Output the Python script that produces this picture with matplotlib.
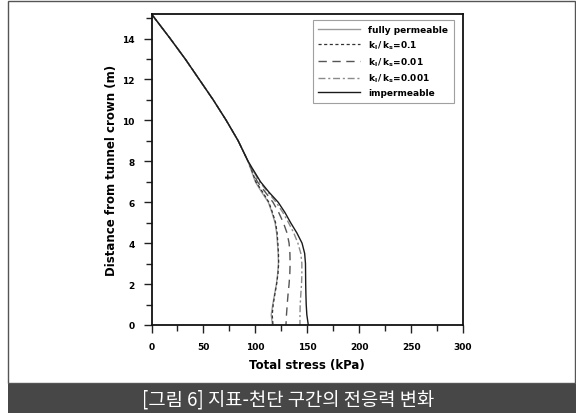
import numpy as np
import matplotlib
matplotlib.use("Agg")
import matplotlib.pyplot as plt
import matplotlib.ticker as plticker
from matplotlib.patches import Rectangle

# distance from the tunnel crown (m)
depth = [15.2, 14, 13, 12, 11, 10, 9, 8, 7.5, 7, 6.5, 6, 5.5, 5, 4.5, 4,
         3.5, 3, 2.5, 2, 1.5, 1, 0.5, 0]

# total stress (kPa) for each lining/soil permeability ratio
upper = [0, 18, 32.5, 46, 59.5, 72, 83.5, 93]
fully_perm = upper + [96.5, 100, 106, 112.5, 116, 119, 120.5, 121.3,
                      122, 122.2, 121.5, 120.3, 118.5, 116.8, 115.3, 116.5]
ratio_01 = upper + [97, 100.5, 107, 113, 116.5, 119.5, 121, 121.7,
                    122.3, 122.5, 121.8, 120.5, 118.8, 117.2, 116.3, 117]
ratio_001 = upper + [97.5, 102, 109.5, 117, 122.5, 127, 130.5, 132.5,
                     133.3, 133.5, 133.2, 132.5, 131.5, 130.7, 130, 129.5]
ratio_0001 = upper + [98.5, 104, 112, 120, 126.5, 132, 137, 141,
                      143.8, 144.8, 144.8, 144.5, 143.8, 143.2, 143, 143]
imperm = upper + [99, 105, 113, 122, 128.5, 134, 140, 145,
                  147.5, 148.3, 148.4, 148.5, 148.7, 149, 149.6, 151]

x_ticks = [0, 50, 100, 150, 200, 250, 300]
y_ticks = [0, 2, 4, 6, 8, 10, 12, 14]
caption = "[그림 6] 지표-천단 구간의 전응력 변화"

fig = plt.figure(figsize=(5.76, 4.14), dpi=100)
fig.set_facecolor("white")

# white panel with a thin border, dark caption bar underneath
W, H = 576.0, 414.0
fig.patches.append(Rectangle((8 / W, (H - 384) / H), 567 / W, 382 / H,
                             transform=fig.transFigure, facecolor="none",
                             edgecolor="#555555", linewidth=1.0, zorder=-5))
fig.patches.append(Rectangle((8 / W, 0), 568 / W, (H - 385) / H,
                             transform=fig.transFigure, facecolor="#474747",
                             edgecolor="none", zorder=-5))
fig.text(288 / W, 14 / H, caption, color="white", fontsize=13.5,
         ha="center", va="center", family=["Noto Sans CJK KR", "DejaVu Sans"])

ax = fig.add_axes([151.5 / W, (H - 326) / H, 311.5 / W, 311 / H])

ax.plot(fully_perm, depth, "-", color="#9a9a9a", linewidth=1.0, label="fully permeable")
ax.plot(ratio_01, depth, "--", color="#333333", linewidth=0.9, dashes=(2.5, 2),
        label=r"$\mathbf{k_l\,/\,k_s}$=0.1")
ax.plot(ratio_001, depth, "--", color="#555555", linewidth=1.0, dashes=(6, 4),
        label=r"$\mathbf{k_l\,/\,k_s}$=0.01")
ax.plot(ratio_0001, depth, "-.", color="#8a8a8a", linewidth=1.0, dashes=(5, 2, 1.5, 2),
        label=r"$\mathbf{k_l\,/\,k_s}$=0.001")
ax.plot(imperm, depth, "-", color="#1a1a1a", linewidth=1.0, label="impermeable")

ax.set_xlim(0, 300)
ax.set_ylim(0, 15.2)
ax.xaxis.set_major_locator(plticker.FixedLocator(x_ticks))
ax.yaxis.set_major_locator(plticker.FixedLocator(y_ticks))
ax.xaxis.set_minor_locator(plticker.MultipleLocator(25))
ax.yaxis.set_minor_locator(plticker.MultipleLocator(1))
ax.tick_params(which="both", direction="out", width=1.0, color="#222222")
ax.tick_params(which="major", length=6, labelsize=6.5, pad=6)
ax.tick_params(which="minor", length=4)
for lab in ax.get_xticklabels() + ax.get_yticklabels():
    lab.set_fontweight("bold")
for sp in ax.spines.values():
    sp.set_linewidth(1.3)
    sp.set_color("#111111")

ax.set_xlabel("Total stress (kPa)", fontsize=8.5, fontweight="bold", labelpad=5)
ax.set_ylabel("Distance from tunnel crown (m)", fontsize=8.5, fontweight="bold", labelpad=3)

leg = ax.legend(loc="upper right", bbox_to_anchor=(0.984, 0.995), fontsize=6.5,
                frameon=True, fancybox=False, edgecolor="#888888",
                handlelength=4.6, handletextpad=0.9, labelspacing=0.45,
                borderpad=0.6)
leg.get_frame().set_linewidth(0.8)
for t in leg.get_texts():
    t.set_fontweight("bold")

fig.savefig("out.png", dpi=100)
